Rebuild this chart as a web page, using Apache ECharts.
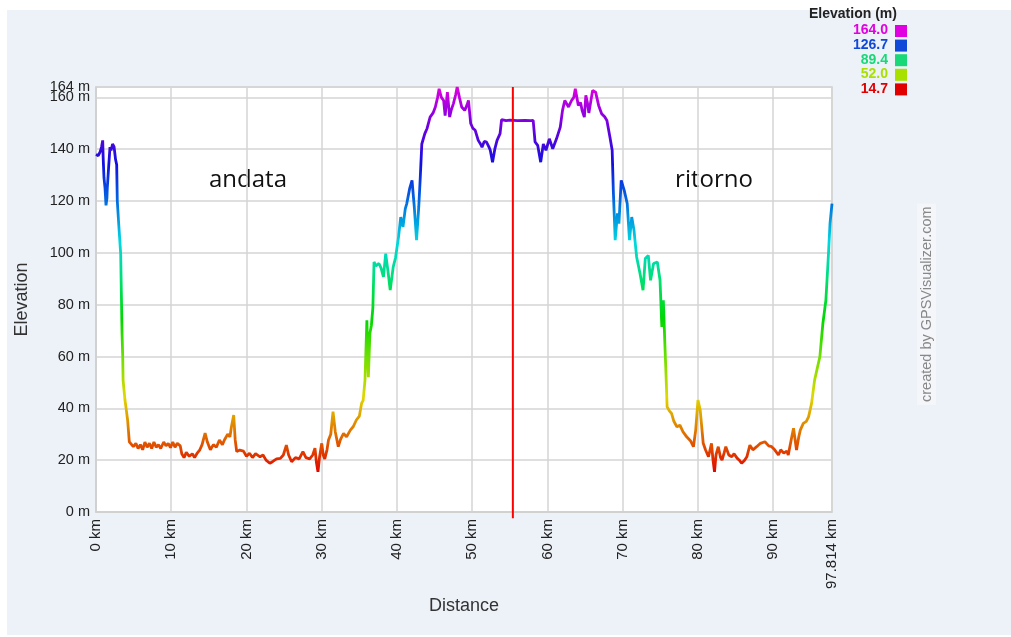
<!DOCTYPE html>
<html>
<head>
<meta charset="utf-8">
<script src="https://cdn.jsdelivr.net/npm/echarts@6/dist/echarts.min.js"></script>
<style>
html,body{margin:0;padding:0;background:#fff;}
#bg{position:absolute;left:7px;top:10px;width:1004px;height:625px;background:#edf1f8;}
#chart{position:absolute;left:0;top:0;width:1011px;height:637px;}
</style>
</head>
<body>
<div id="bg"></div>
<div id="chart"></div>
<script>
// Distance along the track (km)
const distanceKm = [
0,0.3,0.55,0.75,0.89,0.95,1.06,1.2,1.33,1.45,1.5,1.7,1.86,2.0,2.2,2.4,2.6,2.75,2.83,3.0,
3.1,3.28,3.37,3.46,3.55,3.6,3.85,4.0,4.2,4.43,4.6,4.96,5.3,5.6,5.9,6.2,6.5,6.8,7.1,7.4,
7.7,8.0,8.3,8.6,9.0,9.3,9.6,9.9,10.2,10.5,10.8,11.2,11.4,11.7,12.0,12.4,12.8,13.1,13.4,13.8,
14.1,14.5,14.8,15.2,15.6,16.0,16.4,16.8,17.1,17.5,17.8,18.0,18.3,18.5,18.7,19.1,19.6,20.0,20.4,20.8,
21.2,21.8,22.2,22.6,23.1,23.5,24.0,24.5,24.9,25.3,25.6,26.0,26.5,27.0,27.5,27.9,28.4,28.8,29.1,29.3,
29.5,29.7,30.0,30.2,30.4,30.7,30.9,31.2,31.5,31.8,32.2,32.5,32.9,33.3,33.8,34.2,34.6,35.0,35.3,35.5,
35.75,36.0,36.2,36.4,36.6,36.8,36.95,37.2,37.6,37.9,38.2,38.5,38.8,39.1,39.5,39.8,40.2,40.5,40.8,41.1,
41.3,41.7,42.0,42.3,42.6,42.9,43.1,43.3,43.7,44.0,44.4,44.8,45.1,45.4,45.6,45.9,46.2,46.4,46.7,47.0,
47.2,47.5,47.8,48.0,48.3,48.6,49.0,49.3,49.5,49.8,50.1,50.4,50.8,51.1,51.3,51.6,51.9,52.2,52.4,52.7,
53.0,53.3,53.7,53.9,54.5,55.0,56.0,57.0,57.8,58.1,58.35,58.7,59.1,59.45,59.8,60.25,60.7,61.2,61.7,62.0,
62.3,62.8,63.2,63.5,63.7,64.1,64.4,64.6,64.9,65.1,65.3,65.5,66.0,66.4,66.8,67.2,67.6,67.9,68.3,68.6,
68.75,69.0,69.3,69.5,69.8,70.2,70.6,70.9,71.2,71.5,71.85,72.3,72.7,73.0,73.4,73.7,74.1,74.6,74.96,75.2,
75.4,75.6,75.75,75.9,76.2,76.5,76.8,77.2,77.6,78.0,78.5,79.0,79.4,79.7,80.0,80.3,80.7,81.0,81.4,81.8,
82.0,82.2,82.4,82.7,83.0,83.2,83.5,83.7,84.1,84.5,84.8,85.2,85.5,85.8,86.2,86.5,86.9,87.3,87.8,88.3,
88.9,89.4,89.8,90.2,90.7,91.0,91.4,91.8,92.0,92.4,92.7,93.1,93.4,93.6,94.0,94.4,94.7,95.1,95.5,96.2,
96.6,97.0,97.3,97.55,97.814
];
// Elevation (m)
const elevationM = [
138,137.5,139,141,143.4,137,129,125,118.3,121,125,134,140.8,139.5,142,141,136,134,120,112,
107.5,99.7,84.4,69,60,50.9,43.2,40,35.5,27.1,26.5,25.2,26.5,24.5,26,24,27,25,26.5,24.5,
27,25,26,24.5,27,25.5,26.5,24.8,27,25,26.5,25.5,22.5,21,23,21.5,22.5,21,22.5,24,
26,30.4,27,24,26,25,27.8,26,28,30,29,32.9,37.4,27.8,23.3,23.9,23.5,21.5,22.7,21,
22.5,21.3,22,20,18.8,19.5,20.5,20.7,22,25.8,22,19.4,21,20.5,23.3,21,20.5,22,24.6,19,
15.5,21,26.5,22,20.5,24,27.8,30,38.7,31,25.2,28,30.3,29,31.6,33,35.5,37,42,43,
50.9,74,52,69,72,79,96.5,95,95.9,94,90.7,99.7,93,85.6,94.6,98,106,113.8,110,117,
119,125,128,117.7,104.9,118,129.3,142,146,148,152.4,154,156.3,160,163.3,160,158.8,153,162,152.4,
155,157.6,161,164,160,156.3,155,157,158.8,149.9,148,147.3,143.4,142,140.8,143,142.7,141,139.6,135,
140,143.4,146,151.4,151,151.2,151,151.1,151,151.1,142.8,141.5,135,142,139.6,144,140.2,144,148.5,155,
158.8,156.3,158.8,160,163.3,156.9,158,155,152.4,160.8,158,154,162.7,162,156.9,153.7,152.5,151.1,144.7,139.6,
124.1,104.9,115.2,111.3,128,124.1,119,104.9,113.8,108.7,98.4,92,85.6,97.8,99,89.4,95.9,96.5,89.4,71.4,
81.7,65,53.5,40.6,39,38,35,32.9,33.5,31,29,27.5,25.2,31.6,43.2,39.3,26.5,24,21.3,26.5,
20,15.5,22,25.2,21,20,23,25.2,22,21.3,22.5,20.8,20,18.8,20,21.3,25.8,24,25.2,26.5,
27.1,25.5,25.2,24,22,24,22.7,23.5,22,28,32.3,23.9,29,31.6,34.2,35,36.7,41.9,50.9,59.9,
72.7,81.7,97.1,111.3,119
];
// Elevation scale legend
const legendValues = ['164.0','126.7','89.4','52.0','14.7'];
const legendColors = ['#e000e0','#1048d8','#18d878','#a8e000','#e00000'];
const turnaroundKm = 55.4;
const yTicksMax = 164;
const xMax = 97.814;

const profile = distanceKm.map((d, i) => [d, elevationM[i]]);

const chart = echarts.init(document.getElementById('chart'), null, {renderer: 'canvas'});
const font = '"Liberation Sans", Arial, sans-serif';

const legendGraphics = [{
  type: 'text', left: 809, top: 7,
  style: {text: 'Elevation (m)', font: 'bold 14px ' + font, fill: '#222'}
}];
legendValues.forEach((v, i) => {
  const y = 25 + i * 14.6;
  legendGraphics.push({
    type: 'text', right: 1011 - 888, top: y - 1.5,
    style: {text: v, font: 'bold 14px ' + font, fill: legendColors[i], textAlign: 'right'}
  });
  legendGraphics.push({
    type: 'rect', shape: {x: 895, y: y, width: 12, height: 12},
    style: {fill: legendColors[i]}
  });
});

const yLabelStyle = {margin: 6, fontFamily: font, fontSize: 14.5, color: '#222',
                     formatter: v => v + ' m'};

chart.setOption({
  backgroundColor: 'transparent',
  animation: false,
  grid: {left: 96, right: 179, top: 87, bottom: 125, show: true,
         backgroundColor: '#ffffff', borderColor: '#cfcfcf', borderWidth: 1.5},
  xAxis: {
    type: 'value', min: 0, max: xMax, interval: 10,
    name: 'Distance', nameLocation: 'middle', nameGap: 79,
    nameTextStyle: {fontFamily: font, fontSize: 18, color: '#333'},
    axisLine: {show: true, lineStyle: {color: '#cfcfcf', width: 1.5}},
    axisTick: {show: false},
    axisLabel: {rotate: 90, margin: 7, fontFamily: font, fontSize: 15, color: '#222',
                formatter: v => v + ' km', showMaxLabel: true},
    splitLine: {show: true, lineStyle: {color: '#d4d4d4', width: 1.5}}
  },
  yAxis: [{
    type: 'value', min: 0, max: yTicksMax, interval: 20, position: 'left',
    name: 'Elevation', nameLocation: 'middle', nameGap: 65, nameRotate: 90,
    nameTextStyle: {fontFamily: font, fontSize: 18, color: '#333'},
    axisLine: {show: true, lineStyle: {color: '#cfcfcf', width: 1.5}},
    axisTick: {show: false},
    axisLabel: Object.assign({showMaxLabel: false, showMinLabel: true}, yLabelStyle),
    splitLine: {show: true, lineStyle: {color: '#d4d4d4', width: 1.5}}
  }, {
    type: 'value', min: 0, max: yTicksMax, position: 'left', offset: 0,
    axisLine: {show: false}, axisTick: {show: false}, splitLine: {show: false},
    axisLabel: Object.assign({customValues: [yTicksMax], showMaxLabel: true}, yLabelStyle)
  }],
  visualMap: {
    type: 'continuous', show: false, seriesIndex: 0, dimension: 1,
    min: 14.7, max: 164,
    inRange: {color: ['#e00000','#e06c00','#e0d800','#70e000','#00d800','#00e070',
                      '#00d8e0','#0070e0','#1010e0','#7000e0','#e000e0']}
  },
  series: [
    {
      type: 'line', data: profile, showSymbol: false, symbol: 'none',
      lineStyle: {width: 2.8}, z: 3
    },
    {
      type: 'line', data: [[turnaroundKm, -2.4], [turnaroundKm, yTicksMax]],
      showSymbol: false, symbol: 'none', clip: false, silent: true,
      lineStyle: {color: '#ff0000', width: 2}, z: 4
    }
  ],
  graphic: [
    {type: 'text', x: 248, y: 180,
     style: {text: 'andata', font: '24px "Open Sans", Lato, sans-serif', fill: '#111',
             textAlign: 'center', textVerticalAlign: 'middle'}},
    {type: 'text', x: 714, y: 180,
     style: {text: 'ritorno', font: '24px "Open Sans", Lato, sans-serif', fill: '#111',
             textAlign: 'center', textVerticalAlign: 'middle'}},
    {type: 'text', x: 917, y: 405, rotation: Math.PI / 2,
     style: {text: 'created by GPSVisualizer.com', font: '14.5px ' + font, fill: '#888',
             backgroundColor: '#f4f6fa', padding: [2, 3]}}
  ].concat(legendGraphics)
});
</script>
</body>
</html>
